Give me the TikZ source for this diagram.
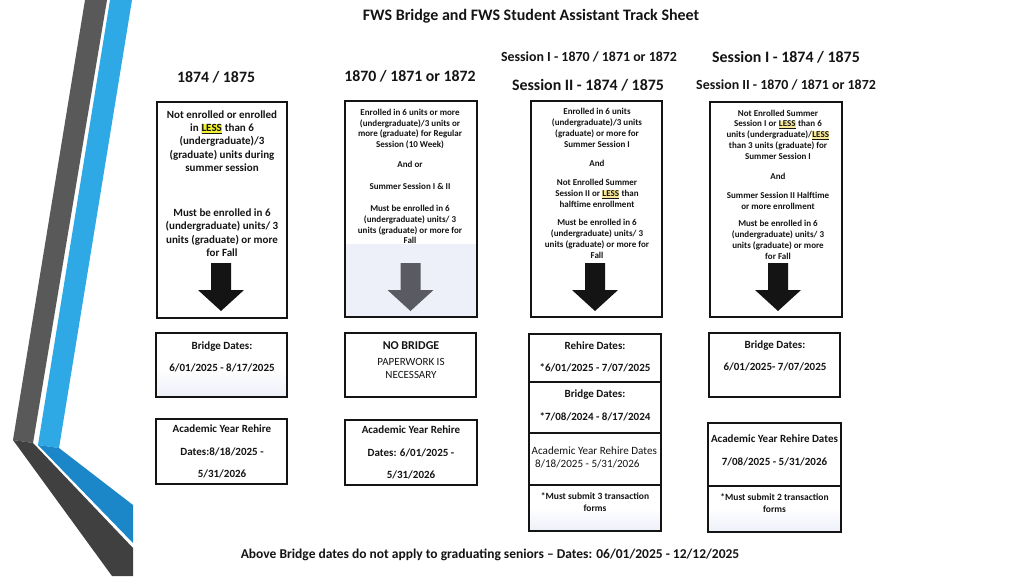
\documentclass[tikz,border=0pt]{standalone}
\usepackage{fontspec}
\setmainfont{Carlito}
\definecolor{ink}{HTML}{141414}
\definecolor{darkup}{HTML}{595959}
\definecolor{darklow}{HTML}{404040}
\definecolor{blueup}{HTML}{2EA9E5}
\definecolor{bluelow}{HTML}{1B87C9}
\definecolor{hlA}{HTML}{F2F230}
\definecolor{hlB}{HTML}{F7E89A}
\definecolor{paleblue}{HTML}{EEF0F9}
\definecolor{grayarrow}{HTML}{5A5A62}
\newcommand\hlLess[1]{{\setlength{\fboxsep}{0.4pt}\colorbox{#1}{\underline{LESS}}}}
\newcommand\dnarrow[2]{\fill[#2] ({#1-10},263) -- ({#1+10},263) -- ({#1+10},290) -- ({#1+23},290) -- (#1,311) -- ({#1-23},290) -- ({#1-10},290) -- cycle;}
\begin{document}
\begin{tikzpicture}[x=1pt,y=-1pt,
  framebox/.style={draw=ink,line width=1.6pt,inner sep=0pt,outer sep=0pt},
  txt/.style={align=center,inner sep=0pt,text=ink},
  bA/.style={txt,font=\fontsize{11}{13.4}\selectfont\bfseries},
  bB/.style={txt,font=\fontsize{9}{10.8}\selectfont\bfseries},
  bM/.style={txt,font=\fontsize{9.5}{12}\selectfont\bfseries},
  lo/.style={txt,font=\fontsize{11}{22.5}\selectfont\bfseries},
  ttl/.style={txt,font=\fontsize{16}{18}\selectfont\bfseries},
  colt/.style={txt,font=\fontsize{15.8}{18}\selectfont\bfseries},
  sesS/.style={txt,font=\fontsize{13.9}{16}\selectfont\bfseries},
  sesL/.style={txt,font=\fontsize{15.9}{18}\selectfont\bfseries},
  paleshade/.style={top color=white,bottom color=paleblue}]
\useasboundingbox (0,0) rectangle (1024,576);
\fill[white] (0,0) rectangle (1024,576);
% left decoration
\fill[darkup] (85,0) -- (107,0) -- (33,443) -- (13,440) -- cycle;
\fill[blueup] (110,0) -- (132,0) -- (59,448) -- (38,445) -- cycle;
\fill[darklow] (13,440) -- (33,443) -- (133,548) -- (133,576) -- (112,576) -- cycle;
\fill[bluelow] (38,445) -- (59,448) -- (133,505) -- (133,543) -- cycle;
% titles
\node[ttl] (title) at (531,16) {FWS Bridge and FWS Student Assistant Track Sheet};
\node[colt] (h1) at (216,77) {1874 / 1875};
\node[colt] (h2) at (410,76) {1870 / 1871 or 1872};
\node[sesS] (h3a) at (589,57) {Session I - 1870 / 1871 or 1872};
\node[sesL] (h3b) at (588,85) {Session II - 1874 / 1875};
\node[sesL] (h4a) at (786,57) {Session I - 1874 / 1875};
\node[sesS] (h4b) at (786,85) {Session II - 1870 / 1871 or 1872};
% pale areas
\fill[paleblue] (345,244) rectangle (477,317);
\shade[paleshade] (156,368) rectangle (287,397);
\shade[paleshade] (529,508) rectangle (661,531);
\shade[paleshade] (708,508) rectangle (841,532);
% main boxes
\node[framebox,minimum width=130pt,minimum height=216pt] (box1) at (222,210) {};
\node[framebox,minimum width=132pt,minimum height=216pt] (box2) at (411,209) {};
\node[framebox,minimum width=131pt,minimum height=216pt] (box3) at (596.5,209) {};
\node[framebox,minimum width=132pt,minimum height=215pt] (box4) at (776,209.5) {};
% arrows
\dnarrow{221}{ink}
\dnarrow{410.5}{grayarrow}
\dnarrow{595}{ink}
\dnarrow{778}{ink}
% box texts
\node[bA] (t1a) at (222,141) {Not enrolled or enrolled\\in \hlLess{hlA} than 6\\(undergraduate)/3\\(graduate) units during\\summer session};
\node[bA] (t1b) at (222,232.5) {Must be enrolled in 6\\(undergraduate) units/ 3\\units (graduate) or more\\for Fall};
\node[bB] (t2a) at (410,129) {Enrolled in 6 units or more\\(undergraduate)/3 units or\\more (graduate) for Regular\\Session (10 Week)};
\node[bB] (t2b) at (410,164) {And or};
\node[bB] (t2c) at (410,186) {Summer Session I \& II};
\node[bB] (t2d) at (410,224.5) {Must be enrolled in 6\\(undergraduate) units/ 3\\units (graduate) or more for\\Fall};
\node[bB] (t3a) at (597,128) {Enrolled in 6 units\\(undergraduate)/3 units\\(graduate) or more for\\Summer Session I};
\node[bB] (t3b) at (597,163) {And};
\node[bB] (t3c) at (597,193.5) {Not Enrolled Summer\\Session II or \hlLess{hlB} than\\halftime enrollment};
\node[bB] (t3d) at (597,239) {Must be enrolled in 6\\(undergraduate) units/ 3\\units (graduate) or more for\\Fall};
\node[bB] (t4a) at (778,134.5) {Not Enrolled Summer\\Session I or \hlLess{hlB} than 6\\units (undergraduate)/\hlLess{hlB}\\than 3 units (graduate) for\\Summer Session I};
\node[bB] (t4b) at (778,176) {And};
\node[bB] (t4c) at (778,200.5) {Summer Session II Halftime\\or more enrollment};
\node[bB] (t4d) at (778,240) {Must be enrolled in 6\\(undergraduate) units/ 3\\units (graduate) or more\\for Fall};
% column 1 lower
\node[framebox,minimum width=131pt,minimum height=64pt] (br1) at (221.5,365) {};
\node[lo] (br1t) at (222,357) {Bridge Dates:\\6/01/2025 - 8/17/2025};
\node[framebox,minimum width=131pt,minimum height=65pt] (ac1) at (221.5,451.5) {};
\node[lo] (ac1t) at (222,451.5) {Academic Year Rehire\\Dates:8/18/2025 -\\5/31/2026};
% column 2 lower
\node[framebox,minimum width=131pt,minimum height=64pt] (nb2) at (410.5,365) {};
\node[txt,font=\fontsize{12}{13}\selectfont\bfseries] (nb2a) at (411,346) {NO BRIDGE};
\node[txt,font=\fontsize{11}{13}\selectfont] (nb2b) at (411,368.5) {PAPERWORK IS\\NECESSARY};
\node[framebox,minimum width=132pt,minimum height=65pt] (ac2) at (411,452.5) {};
\node[lo] (ac2t) at (411,452.5) {Academic Year Rehire\\Dates: 6/01/2025 -\\5/31/2026};
% column 3 lower stack
\node[framebox,minimum width=132pt,minimum height=48pt] (s3a) at (595,358) {};
\node[framebox,minimum width=132pt,minimum height=51pt] (s3b) at (595,407.5) {};
\node[framebox,minimum width=132pt,minimum height=52pt] (s3c) at (595,459) {};
\node[framebox,minimum width=132pt,minimum height=46pt] (s3d) at (595,508) {};
\node[lo] (s3at) at (595,357) {Rehire Dates:\\*6/01/2025 - 7/07/2025};
\node[lo] (s3bt) at (595,405.5) {Bridge Dates:\\*7/08/2024 - 8/17/2024};
\node[txt,anchor=west,font=\fontsize{11.1}{12}\selectfont] (s3ct1) at (531.5,451) {Academic Year Rehire Dates};
\node[txt,anchor=west,font=\fontsize{11.1}{12}\selectfont] (s3ct2) at (535,464) {8/18/2025 - 5/31/2026};
\node[bM] (s3dt) at (595,502) {*Must submit 3 transaction\\forms};
% column 4 lower
\node[framebox,minimum width=131pt,minimum height=64pt] (br4) at (774.5,365) {};
\node[lo] (br4t) at (775,356) {Bridge Dates:\\6/01/2025- 7/07/2025};
\node[framebox,minimum width=133pt,minimum height=63pt] (s4a) at (774.5,454.5) {};
\node[framebox,minimum width=133pt,minimum height=46pt] (s4b) at (774.5,509) {};
\node[lo] (s4at) at (774.5,450.5) {Academic Year Rehire Dates\\7/08/2025 - 5/31/2026};
\node[bM] (s4bt) at (774.5,503) {*Must submit 2 transaction\\forms};
% footer
\node[txt,font=\fontsize{13.5}{15}\selectfont\bfseries] (foot) at (490,555) {Above Bridge dates do not apply to graduating seniors -- Dates: 06/01/2025 - 12/12/2025};
\end{tikzpicture}
\end{document}
